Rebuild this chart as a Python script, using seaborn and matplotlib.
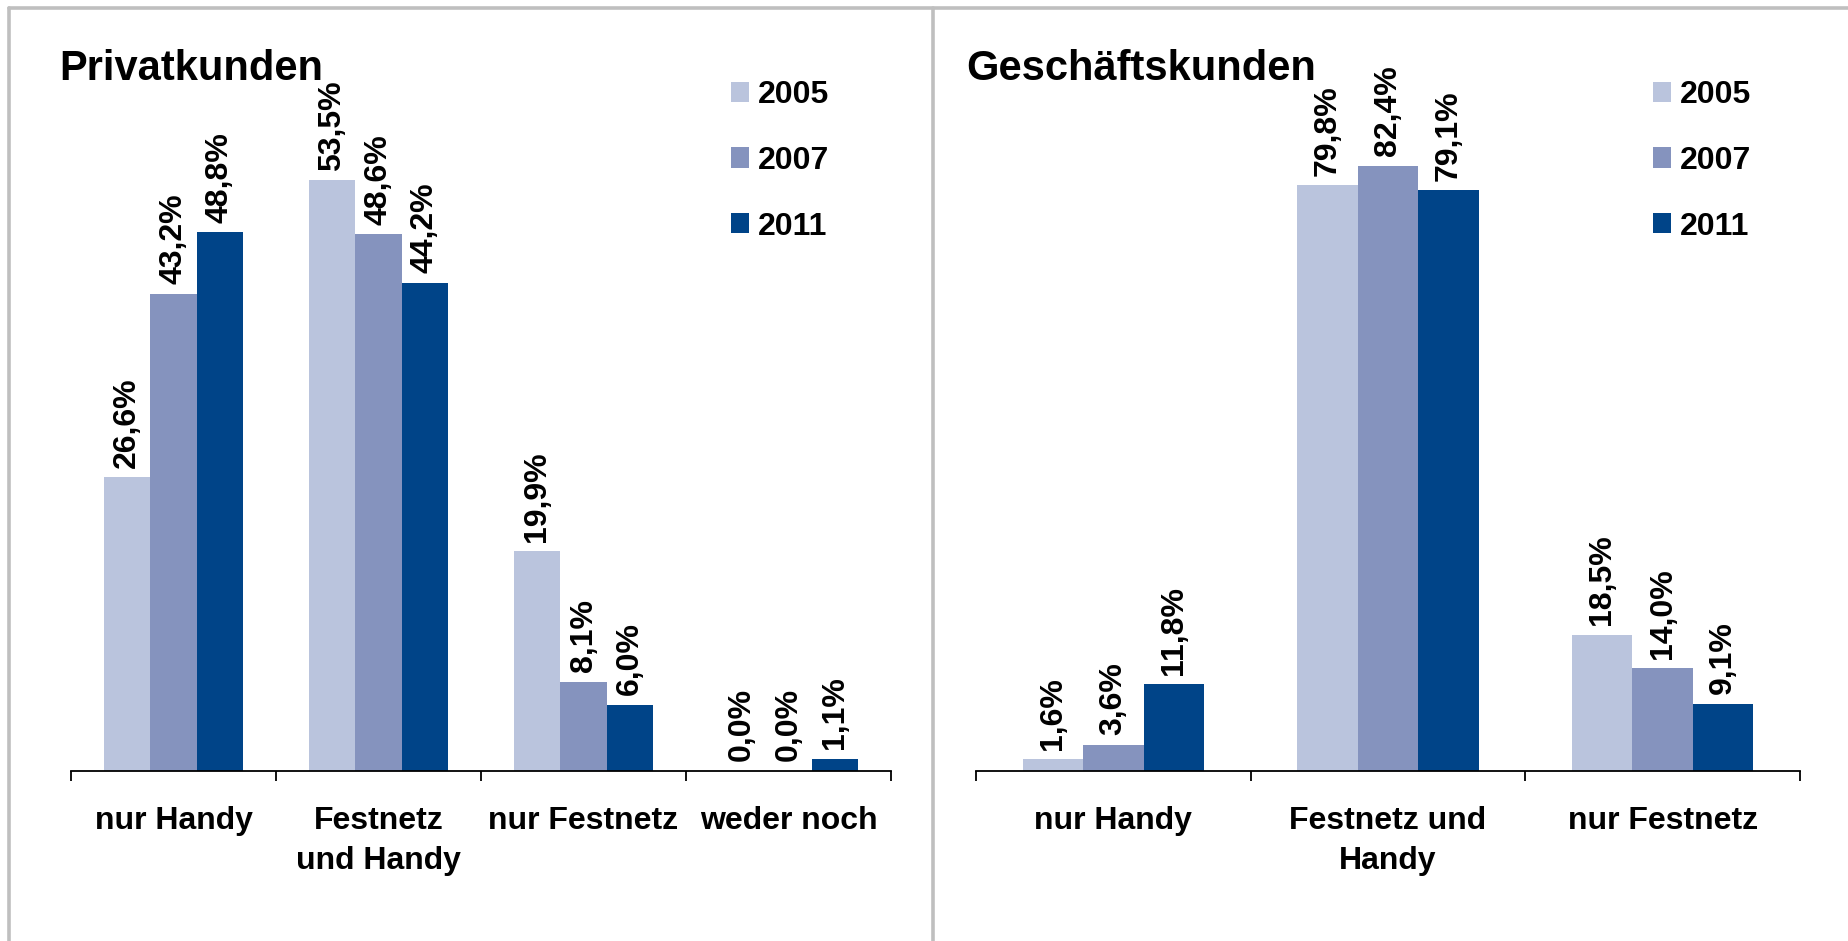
import matplotlib
matplotlib.use("Agg")
import matplotlib.pyplot as plt
from matplotlib.lines import Line2D
from matplotlib.patches import Patch
import seaborn as sns
import pandas as pd

# ---- data ----
years = ["2005", "2007", "2011"]
colors = ["#BAC4DD", "#8593BE", "#004488"]

priv_categories = ["nur Handy", "Festnetz\nund Handy", "nur Festnetz", "weder noch"]
priv_2005 = [26.6, 53.5, 19.9, 0.0]
priv_2007 = [43.2, 48.6, 8.1, 0.0]
priv_2011 = [48.8, 44.2, 6.0, 1.1]

gesch_categories = ["nur Handy", "Festnetz und\nHandy", "nur Festnetz"]
gesch_2005 = [1.6, 79.8, 18.5]
gesch_2007 = [3.6, 82.4, 14.0]
gesch_2011 = [11.8, 79.1, 9.1]

titles = ["Privatkunden", "Geschäftskunden"]

sns.set_style("white")
plt.rcParams["font.family"] = ["Liberation Sans", "DejaVu Sans"]
plt.rcParams["font.weight"] = "bold"
plt.rcParams["text.color"] = "black"
plt.rcParams["xtick.color"] = "black"
plt.rcParams["xtick.labelcolor"] = "black"

W, H = 1849, 941
fig = plt.figure(figsize=(W / 100, H / 100), dpi=100)


def long_df(cats, series):
    rows = []
    for y, vals in zip(years, series):
        for c, v in zip(cats, vals):
            rows.append({"cat": c, "year": y, "val": v})
    return pd.DataFrame(rows)


def fmt(v):
    return f"{v:.1f}%".replace(".", ",")


def panel(rect, cats, series, ymax, width, title, title_x, leg_x):
    ax = fig.add_axes(rect)
    df = long_df(cats, series)
    sns.barplot(data=df, x="cat", y="val", hue="year", order=cats,
                hue_order=years, palette=colors, width=width, ax=ax,
                legend=False, saturation=1, errorbar=None, linewidth=0)
    ax.set_ylim(0, ymax)
    n = len(cats)
    ax.set_xlim(-0.5, n - 0.5)
    for cont, vals in zip(ax.containers, series):
        ax.bar_label(cont, labels=[fmt(v) for v in vals], rotation=90,
                     padding=7, fontsize=23, fontweight="bold", color="black")
    # axis styling
    for s in ["top", "right", "left"]:
        ax.spines[s].set_visible(False)
    ax.spines["bottom"].set_color("black")
    ax.spines["bottom"].set_linewidth(1.3)
    ax.set_yticks([])
    ax.set_ylabel("")
    ax.set_xlabel("")
    ax.set_xticks([i - 0.5 for i in range(n + 1)])
    ax.set_xticklabels([])
    ax.tick_params(axis="x", which="major", direction="out", length=7,
                   width=1.3, color="black", bottom=True)
    ax.set_xticks(list(range(n)), minor=True)
    ax.set_xticklabels(cats, minor=True, fontsize=23, fontweight="bold",
                       linespacing=1.45, color="black")
    ax.tick_params(axis="x", which="minor", length=0, pad=25)
    ax.patch.set_alpha(0)
    fig.text(title_x / W, 1 - 80 / H, title, fontsize=30, fontweight="bold",
             ha="left", va="baseline", color="black")
    handles = [Patch(facecolor=c, edgecolor="none") for c in colors]
    leg = ax.legend(handles, years, loc="upper left",
                    bbox_to_anchor=(leg_x / W, 1 - 80 / H),
                    bbox_transform=fig.transFigure, frameon=False,
                    prop={"size": 23, "weight": "bold"}, handlelength=0.55,
                    handleheight=0.6, handletextpad=0.3, labelspacing=1.12,
                    borderpad=0, borderaxespad=0)
    for t in leg.get_texts():
        t.set_color("black")
    return ax


base = (H - 771) / H
panel([71 / W, base, 820 / W, 60 * 11.04 / H], priv_categories,
      [priv_2005, priv_2007, priv_2011], 60, 0.68, titles[0], 59, 731)
panel([976 / W, base, 824 / W, 90 * 7.34 / H], gesch_categories,
      [gesch_2005, gesch_2007, gesch_2011], 90, 0.66, titles[1], 966, 1653)

# frame lines
gray = "#BFBFBF"
fig.add_artist(Line2D([9 / W, 1], [1 - 8 / H, 1 - 8 / H], color=gray, lw=2.6,
                      transform=fig.transFigure))
fig.add_artist(Line2D([9 / W, 9 / W], [0, 1 - 8 / H], color=gray, lw=2.6,
                      transform=fig.transFigure))
fig.add_artist(Line2D([933 / W, 933 / W], [0, 1 - 8 / H], color=gray, lw=2.6,
                      transform=fig.transFigure))

fig.savefig("out.png", dpi=100)
